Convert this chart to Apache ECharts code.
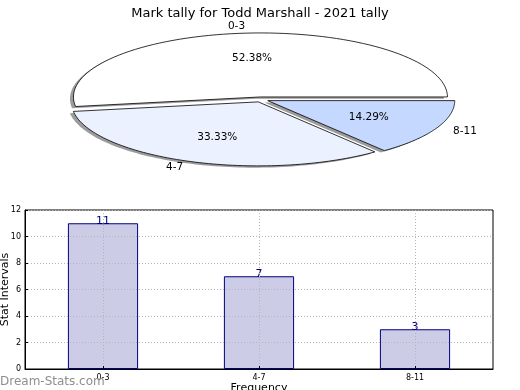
<!DOCTYPE html>
<html>
<head>
<meta charset="utf-8">
<script src="https://cdn.jsdelivr.net/npm/echarts@6/dist/echarts.min.js"></script>
<style>
html,body{margin:0;padding:0;background:#fff;}
#main{width:520px;height:390px;}
</style>
</head>
<body>
<div id="main"></div>
<script>
// ---- data ----
const titleText = 'Mark tally for Todd Marshall - 2021 tally';
const categories = ['0-3', '4-7', '8-11'];
const counts = [11, 7, 3];
const pieColors = ['#ffffff', '#ebf1ff', '#c5d8ff'];
const yTicks = [0, 2, 4, 6, 8, 10, 12];
const yName = 'Stat Intervals';
const xName = 'Frequency';
const watermark = 'Dream-Stats.com';

// ---- pie layout (elliptical, exploded, shadowed) ----
const PIE = { cx: 261, cy: 99.5, rx: 187, ry: 64, explode: 0.04, shadowDx: -3.5, shadowDy: 1.8 };
const FONT = '"DejaVu Sans", sans-serif';
const total = counts.reduce((a, b) => a + b, 0);

function renderSlice(params, api) {
  const i = params.dataIndex;
  const v = api.value(1);
  let start = 0;
  for (let j = 0; j < i; j++) start += counts[j];
  const a0 = start / total * Math.PI * 2;
  const a1 = (start + v) / total * Math.PI * 2;
  const mid = (a0 + a1) / 2;
  const cx = PIE.cx + PIE.explode * PIE.rx * Math.cos(mid);
  const cy = PIE.cy - PIE.explode * PIE.ry * Math.sin(mid);
  const pts = [[cx, cy]];
  const n = 80;
  for (let k = 0; k <= n; k++) {
    const a = a0 + (a1 - a0) * k / n;
    pts.push([cx + PIE.rx * Math.cos(a), cy - PIE.ry * Math.sin(a)]);
  }
  const sh = pts.map(p => [p[0] + PIE.shadowDx, p[1] + PIE.shadowDy]);
  const lx = cx + 1.1 * PIE.rx * Math.cos(mid);
  const ly = cy - 1.1 * PIE.ry * Math.sin(mid);
  const px = cx + 0.6 * PIE.rx * Math.cos(mid);
  const py = cy - 0.6 * PIE.ry * Math.sin(mid);
  return {
    type: 'group',
    children: [
      { type: 'polygon', z2: 0, shape: { points: sh }, style: { fill: '#9c9c9c' } },
      { type: 'polygon', z2: 10, shape: { points: pts }, style: { fill: pieColors[i], stroke: '#000', lineWidth: 0.8 } },
      { type: 'text', z2: 20, style: { x: lx, y: ly, text: categories[i], align: Math.cos(mid) >= 0 ? 'left' : 'right', verticalAlign: 'middle', fill: '#000', font: '10.5px ' + FONT } },
      { type: 'text', z2: 20, style: { x: px, y: py, text: (v / total * 100).toFixed(2) + '%', align: 'center', verticalAlign: 'middle', fill: '#000', font: '10.5px ' + FONT } }
    ]
  };
}

const chart = echarts.init(document.getElementById('main'), null, { renderer: 'canvas' });
const dotted = { color: '#b4b4b4', type: [1, 2], width: 1 };
chart.setOption({
  animation: false,
  backgroundColor: '#fff',
  textStyle: { fontFamily: FONT },
  title: {
    text: titleText, left: 'center', top: 2,
    textStyle: { fontSize: 13, fontWeight: 'normal', color: '#000', fontFamily: FONT }
  },
  grid: {
    left: 25, right: 27, top: 210, bottom: 21, containLabel: false, outerBoundsMode: 'none',
    show: true, borderColor: '#000', borderWidth: 1, backgroundColor: 'transparent'
  },
  xAxis: {
    type: 'category', data: categories, z: 3,
    name: xName, nameLocation: 'middle', nameGap: 13,
    nameTextStyle: { fontSize: 11, color: '#000', fontFamily: FONT },
    axisLine: { lineStyle: { color: '#000' } },
    axisTick: { show: true, inside: true, alignWithLabel: true, length: 3, lineStyle: { color: '#000' } },
    axisLabel: { fontSize: 8, color: '#000', margin: 5, fontFamily: FONT },
    splitLine: { show: true, alignWithLabel: true, lineStyle: dotted }
  },
  yAxis: {
    type: 'value', min: 0, max: 12, interval: 2, z: 3,
    name: yName, nameLocation: 'middle', nameGap: 14, nameMoveOverlap: false,
    nameTextStyle: { fontSize: 11, color: '#000', fontFamily: FONT },
    axisLine: { show: true, lineStyle: { color: '#000' } },
    axisTick: { show: true, inside: true, length: 3, lineStyle: { color: '#000' } },
    axisLabel: { fontSize: 8, color: '#000', margin: 4, fontFamily: FONT, formatter: v => yTicks.includes(v) ? String(v) : '' },
    splitLine: { show: true, lineStyle: dotted }
  },
  graphic: [{
    type: 'text', left: 0, top: 376, z: 100,
    style: { text: watermark, fill: '#8e8e8e', font: '12px ' + FONT }
  }],
  series: [
    {
      type: 'bar', data: counts, barWidth: '45%', z: 2,
      itemStyle: { color: '#ccccE6', borderColor: '#000080', borderWidth: 1 },
      label: { show: true, position: 'top', distance: -3, color: '#000080', fontSize: 11, fontFamily: FONT }
    },
    {
      type: 'custom', coordinateSystem: 'none', z: 5,
      data: counts.map((c, i) => [i, c]),
      renderItem: renderSlice
    }
  ]
});
</script>
</body>
</html>
